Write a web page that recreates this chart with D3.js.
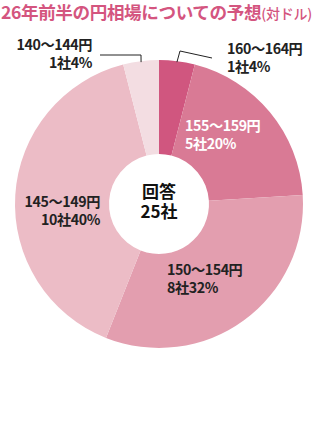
<!DOCTYPE html>
<html><head><meta charset="utf-8">
<script src="https://cdn.jsdelivr.net/npm/d3@7/dist/d3.min.js"></script>
<style>
html,body{margin:0;padding:0;background:#fff;}
svg{display:block;font-family:"Noto Sans CJK JP","Noto Sans",sans-serif;}
</style></head>
<body>
<script>
const title = "26年前半の円相場についての予想";
const titleSub = "(対ドル)";
const categories = ["160～164円","155～159円","150～154円","145～149円","140～144円"];
const counts = [1,5,8,10,1];
const percents = ["4%","20%","32%","40%","4%"];
const colors = ["#d0567f","#d97a95","#e39eaf","#ecbcc6","#f3dde2"];
const centerLabel = ["回答","25社"];

const W=331,H=443;
const svg=d3.select("body").append("svg").attr("width",W).attr("height",H);

// title
const t=svg.append("text").attr("x",1).attr("y",19).attr("fill","#d4557f")
  .attr("font-weight",700).attr("font-size",17.6).attr("letter-spacing",-0.4);
t.append("tspan").text(title);
t.append("tspan").attr("font-size",14).attr("font-weight",500).attr("letter-spacing",-0.2).text(titleSub);

const cx=159, cy=204, R=144, r0=50;
const g=svg.append("g").attr("transform",`translate(${cx},${cy})`);
const pie=d3.pie().sort(null).value(d=>d);
const arcs=pie(counts);
const arc=d3.arc().innerRadius(r0).outerRadius(R);
g.selectAll("path").data(arcs).join("path").attr("d",arc).attr("fill",(d,i)=>colors[i]);

// center label
const cl=g.append("text").attr("text-anchor","middle").attr("font-size",17).attr("font-weight",700).attr("fill","#111");
cl.append("tspan").attr("x",0).attr("y",-6).text(centerLabel[0]);
cl.append("tspan").attr("x",0).attr("y",14).text(centerLabel[1]);

// labels
const labelPos=[
  {x:227,y:54,anchor:"start",fill:"#222"},
  {x:185,y:131,anchor:"start",fill:"#fff"},
  {x:167,y:275,anchor:"start",fill:"#222"},
  {x:100,y:207,anchor:"end",fill:"#222"},
  {x:92,y:50,anchor:"end",fill:"#222"}
];
categories.forEach((c,i)=>{
  const p=labelPos[i];
  const tx=svg.append("text").attr("font-size",14.2).attr("font-weight",600)
    .attr("fill",p.fill).attr("text-anchor",p.anchor).attr("letter-spacing",-0.4);
  tx.append("tspan").attr("x",p.x).attr("y",p.y).text(c);
  tx.append("tspan").attr("x",p.x).attr("y",p.y+17.5).text(counts[i]+"社"+percents[i]);
});

// leader lines
const line=d3.line();
const a0=arcs[0], a4=arcs[4];
function pt(a,rad){return [cx+Math.sin(a)*rad, cy-Math.cos(a)*rad];}
const m0=(a0.startAngle+a0.endAngle)/2, m4=(a4.startAngle+a4.endAngle)/2;
const p0=pt(m0,R-1);
svg.append("path").attr("d",line([p0,[180,51],[212,58]])).attr("fill","none").attr("stroke","#222").attr("stroke-width",1);
const p4=pt(m4,R-1);
svg.append("path").attr("d",line([p4,[141,55],[100,55]])).attr("fill","none").attr("stroke","#222").attr("stroke-width",1);
</script>
</body></html>
